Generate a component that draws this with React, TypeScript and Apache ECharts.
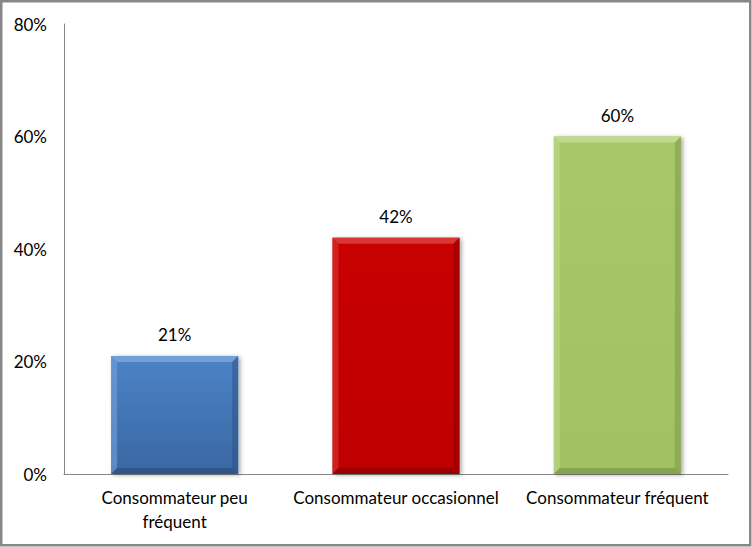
import { useEffect, useRef } from 'react';
import * as echarts from 'echarts';

const categories = ['Consommateur peu\nfréquent', 'Consommateur occasionnel', 'Consommateur fréquent'];
const values = [21, 42, 60];
const yMax = 80;
const yStep = 20;

// colours per bar: face (top, bottom), light edges, dark edges
const palette = [
  { top: '#4b83c7', bottom: '#3a67a2', hi: '#74a0d8', lo: '#2c507f' },
  { top: '#c80000', bottom: '#bf0000', hi: '#d93636', lo: '#8a0000' },
  { top: '#a8c868', bottom: '#a2c162', hi: '#c0d98c', lo: '#7a9545' },
];

export default function App() {
  const chartRef = useRef<HTMLDivElement>(null);

  useEffect(() => {
    if (!chartRef.current) return;
    const chart = echarts.init(chartRef.current, null, { renderer: 'svg' });

    const font = 'Lato, "Open Sans", sans-serif';
    const fontSize = 17;

    chart.setOption({
      animation: false,
      graphic: [
        {
          type: 'rect',
          shape: { x: 1.25, y: 1.25, width: 749, height: 544 },
          style: { fill: 'none', stroke: '#878787', lineWidth: 2.5 },
          silent: true,
        },
      ],
      grid: { left: 64, top: 24, right: 24, bottom: 73 },
      xAxis: {
        type: 'category',
        data: categories,
        axisLine: { lineStyle: { color: '#868686', width: 1 } },
        axisTick: { show: false },
        axisLabel: {
          color: '#000',
          fontFamily: font,
          fontSize,
          lineHeight: 24,
          margin: 11,
          interval: 0,
        },
      },
      yAxis: {
        type: 'value',
        min: 0,
        max: yMax,
        interval: yStep,
        axisLine: { show: true, lineStyle: { color: '#868686', width: 1 } },
        axisTick: { show: false },
        splitLine: { show: false },
        axisLabel: {
          color: '#000',
          fontFamily: font,
          fontSize,
          margin: 17,
          formatter: '{value}%',
        },
      },
      series: [
        {
          type: 'custom',
          data: values.map((v, i) => [i, v]),
          encode: { x: 0, y: 1 },
          renderItem: (params: any, api: any) => {
            const i = api.value(0);
            const v = api.value(1);
            const base = api.coord([i, 0]);
            const top = api.coord([i, v]);
            const w = api.size([1, 0])[0] * 0.574;
            const x = base[0] - w / 2;
            const y = top[1];
            const h = base[1] - top[1];
            const b = 6;
            const c = palette[params.dataIndex];
            return {
              type: 'group',
              children: [
                {
                  type: 'rect',
                  shape: { x, y, width: w, height: h },
                  style: {
                    fill: new echarts.graphic.LinearGradient(0, 0, 0, 1, [
                      { offset: 0, color: c.top },
                      { offset: 1, color: c.bottom },
                    ]),
                    shadowBlur: 4,
                    shadowOffsetX: 2,
                    shadowOffsetY: 1,
                    shadowColor: 'rgba(0,0,0,0.35)',
                  },
                },
                {
                  type: 'polygon',
                  shape: { points: [[x, y], [x + w, y], [x + w - b, y + b], [x + b, y + b]] },
                  style: { fill: c.hi },
                },
                {
                  type: 'polygon',
                  shape: { points: [[x, y], [x + b, y + b], [x + b, y + h - b], [x, y + h]] },
                  style: { fill: c.hi, opacity: 0.6 },
                },
                {
                  type: 'polygon',
                  shape: { points: [[x + w, y], [x + w, y + h], [x + w - b, y + h - b], [x + w - b, y + b]] },
                  style: { fill: c.lo, opacity: 0.5 },
                },
                {
                  type: 'polygon',
                  shape: { points: [[x, y + h], [x + b, y + h - b], [x + w - b, y + h - b], [x + w, y + h]] },
                  style: { fill: c.lo, opacity: 0.7 },
                },
                {
                  type: 'text',
                  x: base[0],
                  y: y - 21,
                  style: {
                    text: `${v}%`,
                    fill: '#000',
                    font: `${fontSize}px ${font}`,
                    align: 'center',
                    verticalAlign: 'middle',
                  },
                },
              ],
            };
          },
        },
      ],
    });

    return () => {
      chart.dispose();
    };
  }, []);

  return (
    <div
      ref={chartRef}
      style={{ position: 'fixed', left: 0, top: 0, width: 752, height: 547, background: '#fff' }}
    />
  );
}
